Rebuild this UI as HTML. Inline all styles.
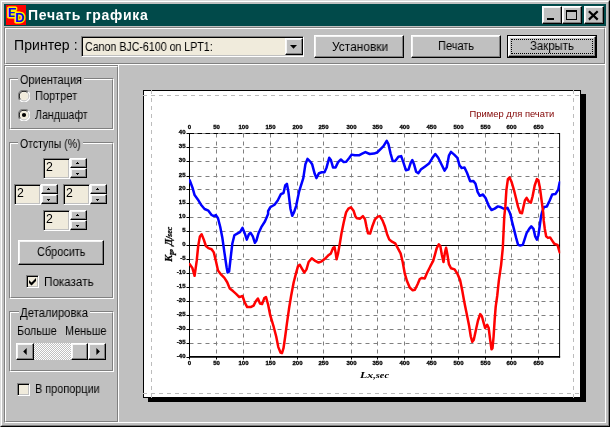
<!DOCTYPE html><html><head><meta charset="utf-8"><title>Печать графика</title><style>

html,body{margin:0;padding:0;}
body{opacity:0.999;width:610px;height:427px;overflow:hidden;background:#c0c0c0;position:relative;font-family:"Liberation Sans",sans-serif;color:#000;}
div{position:absolute;box-sizing:border-box;}
.t{white-space:pre;will-change:transform;}
.et1{border-top:1px solid #808080;border-left:1px solid #808080;border-bottom:1px solid #ffffff;border-right:1px solid #ffffff;}
.et2{border-top:1px solid #ffffff;border-left:1px solid #ffffff;border-bottom:1px solid #808080;border-right:1px solid #808080;}
.btn{background:#c0c0c0;border-top:1px solid #ffffff;border-left:1px solid #ffffff;border-bottom:1px solid #000000;border-right:1px solid #000000;box-shadow:inset -1px -1px 0 #808080, inset 1px 1px 0 #f4f4f4;}
.sunk{background:#f0ebdc;border-top:1px solid #808080;border-left:1px solid #808080;border-bottom:1px solid #ffffff;border-right:1px solid #ffffff;box-shadow:inset 1px 1px 0 #000000, inset -1px -1px 0 #c0c0c0;}
svg{position:absolute;left:0;top:0;}

</style></head><body>
<div style="left:0px;top:0px;width:610px;height:427px;border-top:1px solid #dcdcdc;border-left:1px solid #dcdcdc;border-bottom:1px solid #000000;border-right:1px solid #000000;"></div>
<div style="left:1px;top:1px;width:608px;height:425px;border-top:1px solid #ffffff;border-left:1px solid #ffffff;border-bottom:1px solid #808080;border-right:1px solid #808080;"></div>
<div style="left:4px;top:4px;width:602px;height:22px;background:#004a4a;"></div>
<div style="left:6px;top:5px;width:20px;height:20px;background:#ff0000;overflow:hidden;"><svg width="20" height="20" viewBox="0 0 20 20"><g font-family="Liberation Sans, sans-serif" font-weight="bold" stroke-linejoin="round"><text x="1.8" y="12.4" font-size="13" fill="#0000ff" stroke="#ffee00" stroke-width="3" paint-order="stroke">E</text><text x="9.0" y="17.4" font-size="13" fill="#0000ff" stroke="#ffee00" stroke-width="3" paint-order="stroke">D</text></g></svg></div>
<div class="t" style="left:28.4px;top:8.15px;font-size:14px;line-height:14px;font-weight:bold;color:#fff;letter-spacing:0.7px;">Печать графика</div>
<div class="btn" style="left:542px;top:6px;width:20px;height:18px;"><div style="left:4px;top:11px;width:7px;height:2px;background:#000;"></div></div>
<div class="btn" style="left:562px;top:6px;width:20px;height:18px;"><div style="left:3px;top:3px;width:11px;height:10px;border:1px solid #000;border-top:2px solid #000;"></div></div>
<div class="btn" style="left:584px;top:6px;width:20px;height:18px;"><svg width="18" height="16" viewBox="0 0 18 16"><path d="M3.9 4.2 L12.7 12.6 M12.7 4.2 L3.9 12.6" stroke="#000" stroke-width="2.2" fill="none"/></svg></div>
<div class="et1" style="left:4px;top:27px;width:602px;height:38px;"><div class="et2" style="left:0px;top:0px;width:600px;height:36px;"></div></div>
<div class="t" style="left:14px;top:38.15px;font-size:14px;line-height:14px;letter-spacing:0.07px;">Принтер :</div>
<div class="sunk" style="left:81px;top:36px;width:223px;height:21px;"></div>
<div class="t" style="left:85.41px;top:40.84px;font-size:12px;line-height:12px;transform:scaleX(0.8862);transform-origin:0 0;">Canon BJC-6100 on LPT1:</div>
<div class="btn" style="left:285px;top:38px;width:18px;height:17px;"><svg width="16" height="15" viewBox="0 0 16 15"><path d="M4 6 H11 L7.5 9.8 Z" fill="#000"/></svg></div>
<div class="btn" style="left:314px;top:35px;width:90px;height:23px;"></div><div class="t" style="left:331.75px;top:40.84px;font-size:12px;line-height:12px;transform:scaleX(0.9929);transform-origin:0 0;">Установки</div>
<div class="btn" style="left:411px;top:35px;width:90px;height:23px;"></div><div class="t" style="left:438.10px;top:39.84px;font-size:12px;line-height:12px;transform:scaleX(0.9160);transform-origin:0 0;">Печать</div>
<div style="left:507px;top:35px;width:90px;height:23px;background:#000000;"></div><div class="btn" style="left:508px;top:36px;width:88px;height:21px;"></div><div style="left:511px;top:39px;width:82px;height:15px;border:1px dotted #000;"></div><div class="t" style="left:530.38px;top:39.84px;font-size:12px;line-height:12px;transform:scaleX(0.9481);transform-origin:0 0;">Закрыть</div>
<div class="et1" style="left:4px;top:65px;width:115px;height:358px;"><div class="et2" style="left:0px;top:0px;width:113px;height:356px;"></div></div>
<div style="left:118px;top:64px;width:1px;height:2px;background:#ffffff;"></div>
<div style="left:605px;top:65px;width:1px;height:358px;background:#ffffff;"></div>
<div style="left:119px;top:422px;width:487px;height:1px;background:#ffffff;"></div>
<div class="et1" style="left:9px;top:78px;width:105px;height:52px;"><div class="et2" style="left:0px;top:0px;width:103px;height:50px;"></div></div>
<div style="left:18px;top:72px;width:66px;height:12px;background:#c0c0c0;"></div>
<div class="t" style="left:20.10px;top:73.84px;font-size:12px;line-height:12px;transform:scaleX(0.9090);transform-origin:0 0;">Ориентация</div>
<svg style="left:18px;top:90px" width="12" height="12" viewBox="0 0 12 12"><circle cx="6" cy="6" r="5.5" fill="#ffffff"/><path d="M10.2 1.8 A5.9 5.9 0 0 0 1.8 10.2" stroke="#808080" stroke-width="1.1" fill="none"/><path d="M9.4 2.6 A4.8 4.8 0 0 0 2.6 9.4" stroke="#000000" stroke-width="1" fill="none"/><path d="M10.2 1.8 A5.9 5.9 0 0 1 1.8 10.2" stroke="#ffffff" stroke-width="1.1" fill="none"/><path d="M9.4 2.6 A4.8 4.8 0 0 1 2.6 9.4" stroke="#c0c0c0" stroke-width="1" fill="none"/><circle cx="6" cy="6" r="4" fill="#f0ebdc"/></svg>
<div class="t" style="left:35.19px;top:89.84px;font-size:12px;line-height:12px;transform:scaleX(0.9212);transform-origin:0 0;">Портрет</div>
<svg style="left:18px;top:109px" width="12" height="12" viewBox="0 0 12 12"><circle cx="6" cy="6" r="5.5" fill="#ffffff"/><path d="M10.2 1.8 A5.9 5.9 0 0 0 1.8 10.2" stroke="#808080" stroke-width="1.1" fill="none"/><path d="M9.4 2.6 A4.8 4.8 0 0 0 2.6 9.4" stroke="#000000" stroke-width="1" fill="none"/><path d="M10.2 1.8 A5.9 5.9 0 0 1 1.8 10.2" stroke="#ffffff" stroke-width="1.1" fill="none"/><path d="M9.4 2.6 A4.8 4.8 0 0 1 2.6 9.4" stroke="#c0c0c0" stroke-width="1" fill="none"/><circle cx="6" cy="6" r="4" fill="#f0ebdc"/><circle cx="6" cy="6" r="2.1" fill="#000"/></svg>
<div class="t" style="left:35.21px;top:108.84px;font-size:12px;line-height:12px;transform:scaleX(0.8842);transform-origin:0 0;">Ландшафт</div>
<div class="et1" style="left:9px;top:142px;width:105px;height:157px;"><div class="et2" style="left:0px;top:0px;width:103px;height:155px;"></div></div>
<div style="left:18px;top:136px;width:65px;height:12px;background:#c0c0c0;"></div>
<div class="t" style="left:20.12px;top:137.84px;font-size:12px;line-height:12px;transform:scaleX(0.8719);transform-origin:0 0;">Отступы (%)</div>
<div class="sunk" style="left:43px;top:158px;width:27px;height:21px;"></div><div class="t" style="left:46.4px;top:161.39px;font-size:12.3px;line-height:12.3px;">2</div><div class="btn" style="left:70px;top:158px;width:17px;height:10px;"><svg width="15" height="8" viewBox="0 0 15 8"><path d="M6 3 h1 v1 h1 v1 h-3 v-1 h1 z" fill="#000"/></svg></div><div class="btn" style="left:70px;top:168px;width:17px;height:10px;"><svg width="15" height="8" viewBox="0 0 15 8"><path d="M5 4 h3 v1 h-1 v1 h-1 v-1 h-1 z" fill="#000"/></svg></div>
<div class="sunk" style="left:14px;top:184px;width:27px;height:21px;"></div><div class="t" style="left:17.4px;top:187.39px;font-size:12.3px;line-height:12.3px;">2</div><div class="btn" style="left:41px;top:184px;width:17px;height:10px;"><svg width="15" height="8" viewBox="0 0 15 8"><path d="M6 3 h1 v1 h1 v1 h-3 v-1 h1 z" fill="#000"/></svg></div><div class="btn" style="left:41px;top:194px;width:17px;height:10px;"><svg width="15" height="8" viewBox="0 0 15 8"><path d="M5 4 h3 v1 h-1 v1 h-1 v-1 h-1 z" fill="#000"/></svg></div>
<div class="sunk" style="left:63px;top:184px;width:27px;height:21px;"></div><div class="t" style="left:66.4px;top:187.39px;font-size:12.3px;line-height:12.3px;">2</div><div class="btn" style="left:90px;top:184px;width:17px;height:10px;"><svg width="15" height="8" viewBox="0 0 15 8"><path d="M6 3 h1 v1 h1 v1 h-3 v-1 h1 z" fill="#000"/></svg></div><div class="btn" style="left:90px;top:194px;width:17px;height:10px;"><svg width="15" height="8" viewBox="0 0 15 8"><path d="M5 4 h3 v1 h-1 v1 h-1 v-1 h-1 z" fill="#000"/></svg></div>
<div class="sunk" style="left:43px;top:210px;width:27px;height:21px;"></div><div class="t" style="left:46.4px;top:213.39px;font-size:12.3px;line-height:12.3px;">2</div><div class="btn" style="left:70px;top:210px;width:17px;height:10px;"><svg width="15" height="8" viewBox="0 0 15 8"><path d="M6 3 h1 v1 h1 v1 h-3 v-1 h1 z" fill="#000"/></svg></div><div class="btn" style="left:70px;top:220px;width:17px;height:10px;"><svg width="15" height="8" viewBox="0 0 15 8"><path d="M5 4 h3 v1 h-1 v1 h-1 v-1 h-1 z" fill="#000"/></svg></div>
<div class="btn" style="left:18px;top:240px;width:86px;height:25px;"></div><div class="t" style="left:37.10px;top:245.84px;font-size:12px;line-height:12px;transform:scaleX(0.9081);transform-origin:0 0;">Сбросить</div>
<div class="sunk" style="left:26px;top:275px;width:13px;height:13px;"><svg width="9" height="9" viewBox="0 0 9 9" style="left:1px;top:1px"><path d="M1 3 L3.5 5.5 L8 1 V4 L3.5 8.5 L1 6 Z" fill="#000"/></svg></div>
<div class="t" style="left:44.07px;top:275.84px;font-size:12px;line-height:12px;transform:scaleX(0.9725);transform-origin:0 0;">Показать</div>
<div class="et1" style="left:9px;top:311px;width:105px;height:61px;"><div class="et2" style="left:0px;top:0px;width:103px;height:59px;"></div></div>
<div style="left:19px;top:305px;width:71px;height:12px;background:#c0c0c0;"></div>
<div class="t" style="left:20.48px;top:306.84px;font-size:12px;line-height:12px;transform:scaleX(0.9431);transform-origin:0 0;">Деталировка</div>
<div class="t" style="left:17.20px;top:324.84px;font-size:12px;line-height:12px;transform:scaleX(0.9041);transform-origin:0 0;">Больше</div>
<div class="t" style="left:65.30px;top:324.84px;font-size:12px;line-height:12px;transform:scaleX(0.9022);transform-origin:0 0;">Меньше</div>
<div style="left:16px;top:343px;width:90px;height:17px;background-image:conic-gradient(#fff 25%, #c0c0c0 0 50%, #fff 0 75%, #c0c0c0 0);background-size:2px 2px;"></div>
<div class="btn" style="left:16px;top:343px;width:18px;height:17px;"><svg width="16" height="15" viewBox="0 0 16 15"><path d="M9.7 4 V11 L6.2 7.5 Z" fill="#000"/></svg></div>
<div class="btn" style="left:88px;top:343px;width:18px;height:17px;"><svg width="16" height="15" viewBox="0 0 16 15"><path d="M7.4 4 V11 L10.9 7.5 Z" fill="#000"/></svg></div>
<div class="btn" style="left:71px;top:343px;width:17px;height:17px;"></div>
<div class="sunk" style="left:17px;top:383px;width:13px;height:13px;"><svg width="9" height="9" viewBox="0 0 9 9" style="left:1px;top:1px"></svg></div>
<div class="t" style="left:35.00px;top:382.84px;font-size:12px;line-height:12px;transform:scaleX(0.9074);transform-origin:0 0;">В пропорции</div>
<div style="left:148px;top:94px;width:438px;height:308px;background:#000;"></div>
<div style="left:143px;top:90px;width:438px;height:308px;background:#fff;border:1px solid #000;"></div>
<svg width="610" height="427" viewBox="0 0 610 427" font-family="Liberation Sans, sans-serif"><g stroke="#bcbcbc" stroke-width="1" stroke-dasharray="4 4" fill="none"><path d="M151.5 90 V398 M573.5 90 V398 M143 95.5 H581 M143 393.5 H581"/></g><path d="M216.5 133.5 V357.0 M243.5 133.5 V357.0 M270.5 133.5 V357.0 M297.5 133.5 V357.0 M323.5 133.5 V357.0 M351.5 133.5 V357.0 M377.5 133.5 V357.0 M404.5 133.5 V357.0 M431.5 133.5 V357.0 M458.5 133.5 V357.0 M485.5 133.5 V357.0 M511.5 133.5 V357.0 M538.5 133.5 V357.0 M189.5 133.5 H559.6 M189.5 147.5 H559.6 M189.5 161.5 H559.6 M189.5 176.5 H559.6 M189.5 189.5 H559.6 M189.5 203.5 H559.6 M189.5 217.5 H559.6 M189.5 231.5 H559.6 M189.5 259.5 H559.6 M189.5 273.5 H559.6 M189.5 287.5 H559.6 M189.5 301.5 H559.6 M189.5 315.5 H559.6 M189.5 329.5 H559.6 M189.5 343.5 H559.6" stroke="#808080" stroke-width="1" stroke-dasharray="4 4" fill="none"/><path d="M189.5 133.5 H559.6" stroke="#808080" stroke-width="1"/><path d="M189.5 133.5 H559.6" stroke="#000" stroke-width="1.15" stroke-dasharray="4.5 3.5"/><path d="M189.5 133.0 V357.5 M559.6 133.0 V357.5" stroke="#000" stroke-width="1" fill="none"/><path d="M189.0 356.9 H560.1" stroke="#000" stroke-width="1.6" fill="none"/><path d="M189.5 245.5 H559.6" stroke="#000" stroke-width="1" fill="none"/><path d="M186.5 133.5 H189.5 M186.5 147.5 H189.5 M186.5 161.5 H189.5 M186.5 176.5 H189.5 M186.5 189.5 H189.5 M186.5 203.5 H189.5 M186.5 217.5 H189.5 M186.5 231.5 H189.5 M186.5 245.5 H189.5 M186.5 259.5 H189.5 M186.5 273.5 H189.5 M186.5 287.5 H189.5 M186.5 301.5 H189.5 M186.5 315.5 H189.5 M186.5 329.5 H189.5 M186.5 343.5 H189.5 M186.5 357.5 H189.5 M189.5 357.0 V359.5 M216.5 357.0 V359.5 M243.5 357.0 V359.5 M270.5 357.0 V359.5 M297.5 357.0 V359.5 M323.5 357.0 V359.5 M351.5 357.0 V359.5 M377.5 357.0 V359.5 M404.5 357.0 V359.5 M431.5 357.0 V359.5 M458.5 357.0 V359.5 M485.5 357.0 V359.5 M511.5 357.0 V359.5 M538.5 357.0 V359.5" stroke="#000" stroke-width="1" fill="none"/><g font-size="6" font-weight="bold" fill="#000" stroke="#000" stroke-width="0.3"><text x="185.5" y="133.5" text-anchor="end">40</text><text x="185.5" y="147.5" text-anchor="end">35</text><text x="185.5" y="161.5" text-anchor="end">30</text><text x="185.5" y="176.5" text-anchor="end">25</text><text x="185.5" y="189.5" text-anchor="end">20</text><text x="185.5" y="203.5" text-anchor="end">15</text><text x="185.5" y="217.5" text-anchor="end">10</text><text x="185.5" y="231.5" text-anchor="end">5</text><text x="185.5" y="245.5" text-anchor="end">0</text><text x="185.5" y="259.5" text-anchor="end">-5</text><text x="185.5" y="273.5" text-anchor="end">-10</text><text x="185.5" y="287.5" text-anchor="end">-15</text><text x="185.5" y="301.5" text-anchor="end">-20</text><text x="185.5" y="315.5" text-anchor="end">-25</text><text x="185.5" y="329.5" text-anchor="end">-30</text><text x="185.5" y="343.5" text-anchor="end">-35</text><text x="185.5" y="357.5" text-anchor="end">-40</text><text x="189.5" y="128.5" text-anchor="middle">0</text><text x="189.5" y="365.0" text-anchor="middle">0</text><text x="216.5" y="128.5" text-anchor="middle">50</text><text x="216.5" y="365.0" text-anchor="middle">50</text><text x="243.5" y="128.5" text-anchor="middle">100</text><text x="243.5" y="365.0" text-anchor="middle">100</text><text x="270.5" y="128.5" text-anchor="middle">150</text><text x="270.5" y="365.0" text-anchor="middle">150</text><text x="297.5" y="128.5" text-anchor="middle">200</text><text x="297.5" y="365.0" text-anchor="middle">200</text><text x="323.5" y="128.5" text-anchor="middle">250</text><text x="323.5" y="365.0" text-anchor="middle">250</text><text x="351.5" y="128.5" text-anchor="middle">300</text><text x="351.5" y="365.0" text-anchor="middle">300</text><text x="377.5" y="128.5" text-anchor="middle">350</text><text x="377.5" y="365.0" text-anchor="middle">350</text><text x="404.5" y="128.5" text-anchor="middle">400</text><text x="404.5" y="365.0" text-anchor="middle">400</text><text x="431.5" y="128.5" text-anchor="middle">450</text><text x="431.5" y="365.0" text-anchor="middle">450</text><text x="458.5" y="128.5" text-anchor="middle">500</text><text x="458.5" y="365.0" text-anchor="middle">500</text><text x="485.5" y="128.5" text-anchor="middle">550</text><text x="485.5" y="365.0" text-anchor="middle">550</text><text x="511.5" y="128.5" text-anchor="middle">600</text><text x="511.5" y="365.0" text-anchor="middle">600</text><text x="538.5" y="128.5" text-anchor="middle">650</text><text x="538.5" y="365.0" text-anchor="middle">650</text></g><text x="360" y="377.9" textLength="29" lengthAdjust="spacingAndGlyphs" font-family="Liberation Serif, serif" font-style="italic" font-weight="bold" font-size="8.6" fill="#000">Lx<tspan font-size="7.4">,sec</tspan></text><text transform="translate(172.3,261.8) rotate(-90)" textLength="35" lengthAdjust="spacingAndGlyphs" font-family="Liberation Serif, serif" font-style="italic" font-weight="bold" font-size="9.6" fill="#000" stroke="#000" stroke-width="0.25">K<tspan font-size="7.5" dy="1.6">p</tspan><tspan dy="-1.6">, Д</tspan><tspan font-size="7.2">/sec</tspan></text><text x="554.3" y="117" text-anchor="end" font-size="9.4" fill="#800000">Пример для печати</text><clipPath id="pc"><rect x="189" y="133" width="371.2" height="225"/></clipPath><g clip-path="url(#pc)"><polyline points="189.7,180.2 192.5,187.7 194.6,195.1 197.8,199.4 201.0,204.7 204.6,209.0 208.4,210.7 211.6,215.0 213.8,216.1 215.9,215.1 218.0,218.3 220.2,226.8 222.3,237.4 224.4,252.4 226.6,267.3 227.6,272.6 229.1,271.5 230.8,256.6 232.3,243.8 234.4,235.3 237.2,233.6 240.0,232.1 242.5,227.9 244.7,233.2 246.8,239.6 248.9,234.2 250.6,232.8 252.8,236.4 254.9,242.8 256.4,240.6 258.5,233.2 261.3,227.2 264.9,221.5 268.1,214.0 268.1,211.1 270.2,207.3 274.5,204.7 277.7,200.5 280.9,194.1 283.5,193.0 285.2,185.5 286.9,183.8 288.4,191.9 290.5,209.0 292.2,215.8 294.1,212.2 296.2,205.8 299.0,191.9 303.3,178.1 305.4,164.2 307.5,158.9 310.7,162.1 312.1,164.2 314.7,173.8 316.4,178.1 319.0,173.2 321.7,172.3 324.5,172.3 326.6,167.4 329.2,157.8 330.9,160.0 333.0,167.4 335.6,167.4 338.1,162.1 340.9,159.5 343.7,162.1 346.2,161.7 349.4,157.8 351.6,154.6 354.8,155.3 359.0,155.3 362.2,153.6 365.4,152.1 369.7,154.0 373.9,153.6 377.1,152.5 380.3,149.3 383.5,146.1 386.7,140.8 388.4,144.0 390.6,153.6 392.7,161.0 395.2,161.0 398.4,156.8 401.2,156.1 403.3,162.1 405.9,170.2 408.5,169.6 410.6,163.2 412.3,160.0 414.0,164.2 416.1,171.7 418.3,173.2 420.8,169.6 425.1,166.4 429.3,163.2 432.5,157.8 435.3,154.0 438.2,157.8 441.4,164.2 444.6,170.6 446.7,167.4 448.9,155.7 451.0,151.9 454.2,154.6 457.4,157.8 459.5,165.3 461.6,168.1 464.4,167.4 467.0,172.8 470.2,181.3 473.4,180.9 475.5,183.8 477.6,191.9 479.8,195.8 483.0,194.5 485.7,198.3 488.7,205.8 491.5,210.0 494.7,208.6 497.9,206.4 501.1,207.3 504.3,209.0 507.5,207.9 509.6,212.2 510.9,216.1 511.7,220.4 513.9,228.9 516.0,237.4 518.1,244.9 520.2,245.5 522.8,244.9 524.5,239.6 526.6,233.2 529.2,228.9 531.3,226.4 533.5,228.9 535.2,236.4 536.9,239.6 538.4,235.3 539.9,224.7 541.1,216.1 542.0,212.2 544.1,206.9 546.9,206.4 549.7,200.5 552.2,194.5 555.4,194.1 558.2,189.8 559.7,182.3" stroke="#0000ff" stroke-width="2.5" fill="none" stroke-linejoin="round" stroke-linecap="round"/><polyline points="189.7,264.1 192.5,268.3 194.6,275.8 196.7,260.9 198.2,246.0 199.9,236.4 201.6,234.2 203.8,239.6 205.9,246.0 208.4,248.1 211.6,249.2 213.8,252.4 215.9,260.9 218.0,270.5 221.2,274.7 224.4,277.9 227.2,282.2 229.8,288.6 233.0,291.1 236.1,293.9 239.3,297.1 242.5,296.0 244.7,302.4 247.2,307.1 250.6,307.1 253.6,305.6 255.8,301.3 257.9,298.6 260.0,303.5 262.1,304.1 264.3,298.1 266.0,297.1 268.1,304.5 270.2,315.2 273.4,325.8 276.2,336.5 278.3,347.1 280.5,352.5 282.0,353.1 283.5,348.2 285.2,336.5 286.9,323.7 289.0,308.8 291.1,296.0 293.7,282.2 296.2,272.6 298.0,266.2 299.7,264.7 301.8,268.3 304.3,272.6 306.5,269.4 308.6,262.0 311.8,258.3 315.3,260.9 318.5,262.6 321.7,261.3 324.9,258.8 328.1,255.6 330.9,253.4 333.0,248.1 334.5,247.0 335.6,252.4 336.6,259.2 338.1,253.4 339.8,243.8 341.5,233.2 343.7,222.5 345.4,215.1 346.2,212.2 348.4,208.6 350.9,207.3 353.7,211.1 355.4,216.4 356.9,218.3 360.1,218.7 362.9,216.1 365.0,219.3 366.5,226.8 368.0,233.2 370.1,233.6 372.2,226.8 375.0,219.3 377.8,216.6 379.9,216.1 382.5,220.4 385.0,226.8 387.1,234.2 389.3,239.6 392.0,241.7 395.2,243.4 397.8,248.1 400.6,253.4 402.7,262.0 404.8,273.7 407.0,281.1 409.7,287.5 412.7,290.3 414.9,289.7 417.6,284.3 419.8,279.0 421.9,277.9 424.7,278.4 427.2,272.6 430.4,266.2 433.2,260.9 435.3,253.4 436.7,248.1 438.8,244.3 440.3,246.0 441.8,254.5 443.5,262.0 444.8,253.4 446.1,247.7 447.4,254.5 448.9,264.1 451.0,268.3 454.6,269.4 457.4,273.7 460.1,280.1 462.3,290.7 463.8,299.2 464.8,304.5 467.0,315.2 469.1,325.8 470.8,336.5 472.3,341.8 473.8,339.7 475.9,330.1 478.0,320.5 480.2,314.1 481.9,316.2 483.6,322.6 485.1,328.0 487.2,324.8 488.7,328.0 490.0,338.6 491.5,349.3 492.5,348.2 493.6,336.5 494.7,319.4 495.7,306.7 497.2,296.0 498.9,280.1 501.1,265.1 502.8,248.1 503.6,231.0 504.3,216.1 505.3,206.9 506.4,189.8 507.9,179.1 509.6,177.4 511.7,182.3 513.9,189.8 516.0,198.3 518.1,206.9 520.2,212.8 522.0,213.2 523.4,206.9 524.9,200.5 526.6,197.9 528.8,201.5 530.9,202.6 532.6,196.2 534.7,185.5 536.9,179.1 538.4,180.2 539.9,187.7 541.6,200.5 543.3,213.2 543.7,220.4 544.8,228.9 546.2,236.4 548.0,237.9 550.1,237.4 552.2,240.6 554.3,243.8 557.5,244.9 559.0,250.2 559.7,252.4" stroke="#ff0000" stroke-width="2.5" fill="none" stroke-linejoin="round" stroke-linecap="round"/></g></svg>
</body></html>
